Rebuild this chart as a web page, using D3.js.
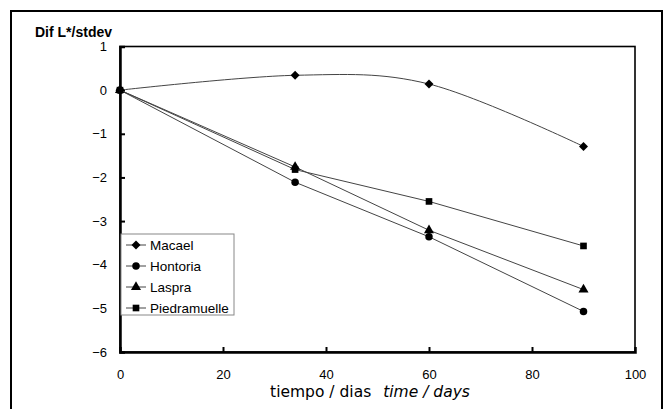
<!DOCTYPE html>
<html><head><meta charset="utf-8">
<script src="https://cdn.jsdelivr.net/npm/d3@7"></script>
<style>body{margin:0;background:#fff}svg{display:block}</style>
</head><body>
<svg id="c" width="665" height="409"></svg>
<script>
const days = [0, 34, 60, 90];
const macael = [0, 0.34, 0.14, -1.29];
const hontoria = [0, -2.11, -3.36, -5.07];
const laspra = [0, -1.76, -3.21, -4.57];
const piedramuelle = [0, -1.82, -2.55, -3.57];
const seriesNames = ["Macael", "Hontoria", "Laspra", "Piedramuelle"];
const seriesSymbols = ["diamond", "circle", "triangle", "square"];
const xTicks = [0, 20, 40, 60, 80, 100];
const yTicks = [1, 0, -1, -2, -3, -4, -5, -6];

const svg = d3.select("#c");
const L = 120, R = 635, T = 46.5, B = 352;
const x = d3.scaleLinear().domain([0, 100]).range([L, R]);
const y = d3.scaleLinear().domain([-6, 1]).range([B, T]);

// outer frame
svg.append("rect").attr("x", 11).attr("y", 11).attr("width", 651).attr("height", 420)
  .attr("fill", "none").attr("stroke", "#000").attr("stroke-width", 2);

// plot frame
svg.append("rect").attr("x", L).attr("y", T).attr("width", R - L).attr("height", B - T)
  .attr("fill", "none").attr("stroke", "#000").attr("stroke-width", 1.6);

// axes
const yAxis = d3.axisLeft(y).tickValues(yTicks).tickSize(-5).tickPadding(13).tickFormat(d3.format("d"));
const gy = svg.append("g").attr("transform", `translate(${L},0)`).call(yAxis);
const xAxis = d3.axisBottom(x).tickValues(xTicks).tickSize(-5).tickPadding(18);
const gx = svg.append("g").attr("transform", `translate(0,${B})`).call(xAxis);
[gy, gx].forEach(g => {
  g.select(".domain").attr("stroke", "#000").attr("stroke-width", 2.5);
  g.selectAll(".tick line").attr("stroke", "#000").attr("stroke-width", 2);
  g.selectAll(".tick text").attr("font-family", "Liberation Sans, Arial, sans-serif")
    .attr("font-size", 13).attr("fill", "#000");
});
gx.selectAll(".tick").filter(d => d === 0 || d === 100).select("line").remove();
gy.selectAll(".tick").filter(d => d === 1 || d === -6).select("line").remove();

// title
svg.append("text").attr("x", 35).attr("y", 37).attr("font-family", "Liberation Sans, Arial, sans-serif")
  .attr("font-size", 14).attr("font-weight", "bold").text("Dif L*/stdev");

// x axis title
const xt = svg.append("text").attr("x", 370).attr("y", 397).attr("text-anchor", "middle")
  .attr("font-family", "DejaVu Sans, sans-serif").attr("font-size", 15.5);
xt.append("tspan").text("tiempo / dias");
xt.append("tspan").attr("dx", 12).attr("font-style", "italic").text("time / days");

const allData = [macael, hontoria, laspra, piedramuelle];
const diamond = { draw(ctx, size) { const r = Math.sqrt(size / 2); ctx.moveTo(0, -r); ctx.lineTo(r, 0); ctx.lineTo(0, r); ctx.lineTo(-r, 0); ctx.closePath(); } };
const symMap = {diamond: diamond, circle: d3.symbolCircle, triangle: d3.symbolTriangle, square: d3.symbolSquare};
const symSize = {diamond: 40, circle: 44, triangle: 44, square: 44};

allData.forEach((vals, i) => {
  const pts = days.map((d, j) => [d, vals[j]]);
  const line = d3.line().x(d => x(d[0])).y(d => y(d[1]))
    .curve(i === 0 ? d3.curveCardinal.tension(0) : d3.curveLinear);
  svg.append("path").attr("d", line(pts)).attr("fill", "none").attr("stroke", "#444").attr("stroke-width", 1);
  const sym = d3.symbol().type(symMap[seriesSymbols[i]]).size(symSize[seriesSymbols[i]]);
  svg.selectAll(null).data(pts).enter().append("path")
    .attr("transform", d => `translate(${x(d[0])},${y(d[1])})`)
    .attr("d", sym).attr("fill", "#000");
});

// legend
const lg = svg.append("g");
lg.append("rect").attr("x", 121).attr("y", 234).attr("width", 113).attr("height", 81)
  .attr("fill", "#fff").attr("stroke", "#888").attr("stroke-width", 1);
seriesNames.forEach((n, i) => {
  const yy = 245 + i * 21;
  lg.append("line").attr("x1", 126).attr("x2", 146).attr("y1", yy).attr("y2", yy).attr("stroke", "#444");
  lg.append("path").attr("transform", `translate(136,${yy})`)
    .attr("d", d3.symbol().type(symMap[seriesSymbols[i]]).size(symSize[seriesSymbols[i]])).attr("fill", "#000");
  lg.append("text").attr("x", 150).attr("y", yy + 5).attr("font-family", "Liberation Sans, Arial, sans-serif")
    .attr("font-size", 13.5).text(n);
});
</script>
</body></html>
